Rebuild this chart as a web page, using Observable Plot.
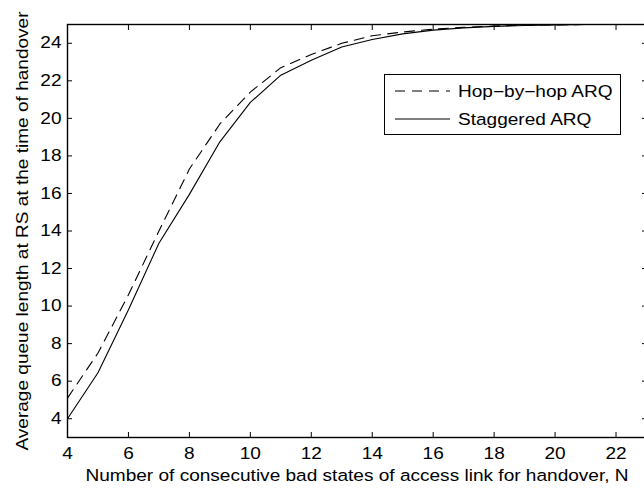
<!DOCTYPE html>
<html>
<head>
<meta charset="utf-8">
<script src="https://cdn.jsdelivr.net/npm/d3@7"></script>
<script src="https://cdn.jsdelivr.net/npm/@observablehq/plot@0.6"></script>
<style>
  html, body { margin: 0; padding: 0; background: #fff; overflow: hidden; }
  #wrap { position: relative; width: 644px; height: 488px; overflow: hidden; }
  #chart svg { display: block; }
  #legend {
    position: absolute; left: 384px; top: 74px; width: 235px; height: 59px;
    border: 1.4px solid #000; background: #fff;
    font-family: "Liberation Sans", Arial, sans-serif; font-size: 16.3px; color: #000;
  }
  #legend .row { position: absolute; left: 0; height: 20px; display: flex; align-items: center; white-space: nowrap; }
  #legend svg { margin-left: 10px; margin-right: 8px; flex: none; }
  #legend span { display: inline-block; transform: scaleX(1.17); transform-origin: 0 50%; }
</style>
</head>
<body>
<div id="wrap">
  <div id="chart"></div>
  <div id="legend"></div>
</div>
<script>
// Number of consecutive bad states of the access link (N)
const N = [4, 5, 6, 7, 8, 9, 10, 11, 12, 13, 14, 15, 16, 17, 18, 19, 20, 21, 22, 23];
// Average queue length at the RS at handover time
const hopByHop = [5.1, 7.5, 10.6, 14.0, 17.3, 19.7, 21.4, 22.7, 23.4, 24.0, 24.4, 24.6, 24.75, 24.85, 24.92, 24.96, 24.98, 25.0, 25.0, 25.0];
const staggered = [4.0, 6.45, 9.8, 13.35, 15.95, 18.75, 20.85, 22.3, 23.1, 23.8, 24.2, 24.5, 24.7, 24.82, 24.9, 24.95, 24.98, 25.0, 25.0, 25.0];

const seriesNames = ["Hop\u2212by\u2212hop ARQ", "Staggered ARQ"];
const seriesDash = ["10,7", null];

const xTicks = [4, 6, 8, 10, 12, 14, 16, 18, 20, 22];
const yTicks = [4, 6, 8, 10, 12, 14, 16, 18, 20, 22, 24];

const xLabel = "Number of consecutive bad states of access link for handover, N";
const yLabel = "Average queue length at RS at the time of handover";

// Wide Helvetica-like lettering: glyphs are stretched along the text direction
const TEXT_STRETCH = 1.17;

const rows = [hopByHop, staggered].flatMap((vals, k) =>
  N.map((n, i) => ({n, q: vals[i], series: seriesNames[k]}))
);

const chart = Plot.plot({
  width: 648,
  height: 488,
  marginLeft: 67,
  marginRight: 2,
  marginTop: 24,
  marginBottom: 51,
  style: {
    fontFamily: "'Liberation Sans', Arial, sans-serif",
    fontSize: "16.3px",
    color: "#000",
    background: "#fff",
    overflow: "visible",
    maxWidth: "none"
  },
  x: {domain: [4, 23]},
  y: {domain: [3, 25]},
  marks: [
    Plot.line(rows.filter(d => d.series === seriesNames[0]), {
      x: "n", y: "q", stroke: "#000", strokeWidth: 1.1, strokeDasharray: seriesDash[0]
    }),
    Plot.line(rows.filter(d => d.series === seriesNames[1]), {
      x: "n", y: "q", stroke: "#000", strokeWidth: 1.1
    }),
    Plot.axisX(xTicks, {anchor: "bottom", tickSize: -5, tickPadding: 15, label: null}),
    Plot.axisX(xTicks, {anchor: "top", tickSize: -5, tickFormat: () => "", label: null}),
    Plot.axisY(yTicks, {anchor: "left", tickSize: -5, tickPadding: 11, label: null}),
    Plot.axisY(yTicks, {anchor: "right", tickSize: -5, tickFormat: () => "", label: null}),
    Plot.text([xLabel], {frameAnchor: "bottom", lineAnchor: "bottom", textAnchor: "middle", dy: 43, text: d => d}),
    Plot.text([yLabel], {frameAnchor: "left", lineAnchor: "bottom", textAnchor: "middle", rotate: -90, dx: -40, text: d => d}),
    Plot.frame({stroke: "#000", strokeWidth: 1.4})
  ]
});

for (const t of chart.querySelectorAll("text")) {
  const tr = t.getAttribute("transform") || "";
  t.setAttribute("transform", `${tr} scale(${TEXT_STRETCH},1)`);
}
document.getElementById("chart").appendChild(chart);

// Legend box: one row per series with its line sample
const legend = document.getElementById("legend");
seriesNames.forEach((name, k) => {
  const row = document.createElement("div");
  row.className = "row";
  row.style.top = (6 + k * 28) + "px";
  const dash = seriesDash[k] ? ` stroke-dasharray="${seriesDash[k]}"` : "";
  row.innerHTML =
    `<svg width="55" height="20"><line x1="0" x2="55" y1="10" y2="10" stroke="#000" stroke-width="1.1"${dash}/></svg>` +
    `<span>${name}</span>`;
  legend.appendChild(row);
});
</script>
</body>
</html>
